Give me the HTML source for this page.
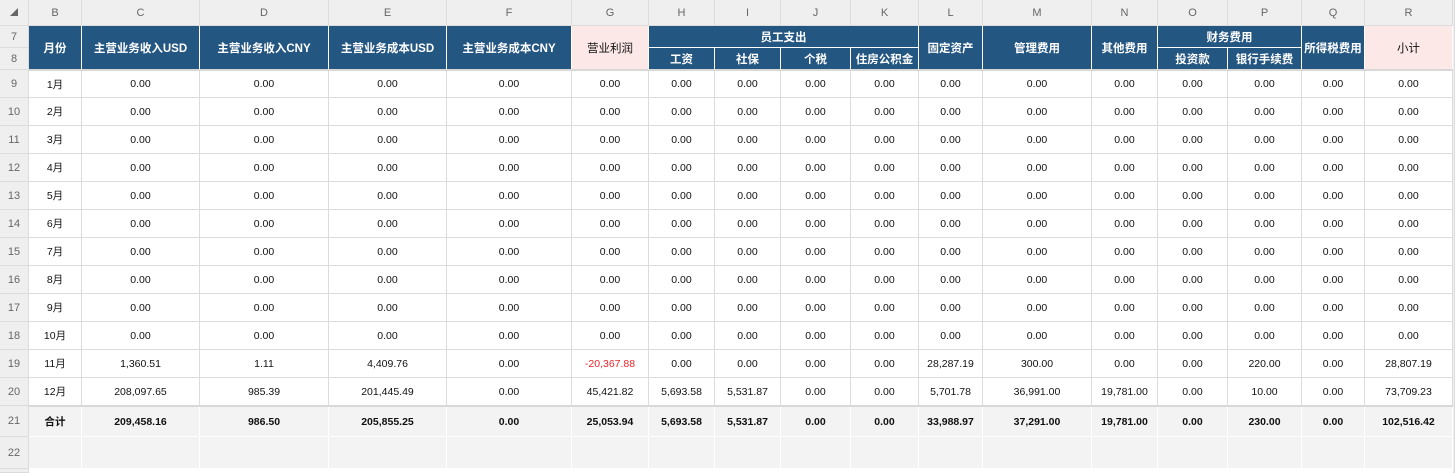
<!DOCTYPE html>
<html><head><meta charset="utf-8"><style>
body{margin:0;width:1455px;height:473px;overflow:hidden;background:#fff;font-family:"Liberation Sans","Noto Sans CJK SC",sans-serif;position:relative}
.c{position:absolute;box-sizing:border-box;display:flex;align-items:center;justify-content:center;font-size:10.5px;color:#111;white-space:nowrap}
.h{background:#245682;color:#fff;font-weight:bold;font-size:11.5px;border-right:1px solid #fff;border-bottom:1px solid #fff}
.p{background:#fde8e8;color:#111;font-weight:normal}
.g{border-right:1px solid #dcdcdc;border-bottom:1px solid #dcdcdc}
.hd{background:#efefef;color:#666;font-size:11px;border-right:1px solid #dcdcdc;border-bottom:1px solid #dcdcdc}
.t{background:#f3f3f3;font-weight:bold;border-right:1px solid #fff;border-bottom:1px solid #fff}
</style></head><body>
<script>
const xs=[29,82,200,329,447,572,649,715,781,851,919,983,1092,1158,1228,1302,1365,1453];
const letters=['B','C','D','E','F','G','H','I','J','K','L','M','N','O','P','Q','R'];
const months=['1月','2月','3月','4月','5月','6月','7月','8月','9月','10月','11月','12月'];
const row11=['1,360.51','1.11','4,409.76','0.00','-20,367.88','0.00','0.00','0.00','0.00','28,287.19','300.00','0.00','0.00','220.00','0.00','28,807.19'];
const row12=['208,097.65','985.39','201,445.49','0.00','45,421.82','5,693.58','5,531.87','0.00','0.00','5,701.78','36,991.00','19,781.00','0.00','10.00','0.00','73,709.23'];
const totals=['209,458.16','986.50','205,855.25','0.00','25,053.94','5,693.58','5,531.87','0.00','0.00','33,988.97','37,291.00','19,781.00','0.00','230.00','0.00','102,516.42'];
function cell(x,y,w,h,cls,txt,name,inter){
  const d=document.createElement('div');
  d.className='c '+cls;
  d.style.left=x+'px';d.style.top=y+'px';d.style.width=w+'px';d.style.height=h+'px';
  d.textContent=txt;
  
  
  document.body.appendChild(d);return d;
}
cell(0,0,29,26,'hd','◢','select-all-corner',true).style.fontSize='8px';
letters.forEach((l,i)=>cell(xs[i],0,xs[i+1]-xs[i],26,'hd',l,'column-header-'+l.toLowerCase(),true));
cell(1453,0,2,473,'hd','','scroll-edge',false);
const rowYs=[[7,26,22],[8,48,22]];
for(let r=9;r<=20;r++)rowYs.push([r,70+(r-9)*28,28]);
rowYs.push([21,406,31]);rowYs.push([22,437,32]);
rowYs.forEach(([n,y,h])=>cell(0,y,29,h,'hd',n,'row-header-'+n,true));
cell(0,469,29,4,'hd','','row-header-end',false);
// headers
const single={0:'月份',1:'主营业务收入USD',2:'主营业务收入CNY',3:'主营业务成本USD',4:'主营业务成本CNY',5:'营业利润',10:'固定资产',11:'管理费用',12:'其他费用',15:'所得税费用',16:'小计'};
for(const k in single){const i=+k;cell(xs[i],26,xs[i+1]-xs[i],44,'h'+((i==5||i==16)?' p':''),single[k],'header-'+letters[i].toLowerCase(),false);}
cell(xs[6],26,xs[10]-xs[6],22,'h','员工支出','header-staff-expense-group',false);
['工资','社保','个税','住房公积金'].forEach((t,j)=>cell(xs[6+j],48,xs[7+j]-xs[6+j],22,'h',t,'header-'+letters[6+j].toLowerCase(),false));
cell(xs[13],26,xs[15]-xs[13],22,'h','财务费用','header-finance-expense-group',false);
['投资款','银行手续费'].forEach((t,j)=>cell(xs[13+j],48,xs[14+j]-xs[13+j],22,'h',t,'header-'+letters[13+j].toLowerCase(),false));
const sep=cell(29,69,1424,2,'','','header-separator',false);sep.style.background='#d8d8d8';
// data
months.forEach((m,r)=>{
  const y=71+r*28-(r==0?0:1)+ (r==0?0:1);
  const top=70+r*28+(r==0?1:0);
  const h=28-(r==0?1:0);
  cell(xs[0],top,xs[1]-xs[0],h,'g',m,'month-'+(r+1),true);
  for(let i=1;i<17;i++){
    let v='0.00';
    if(r==10)v=row11[i-1];
    if(r==11)v=row12[i-1];
    const d=cell(xs[i],top,xs[i+1]-xs[i],h,'g',v,'cell-'+letters[i].toLowerCase()+(r+9),true);
    if(v.startsWith('-'))d.style.color='#e8262a';
  }
});
const sep2=cell(29,405,1424,2,'','','total-separator',false);sep2.style.background='#d8d8d8';
cell(xs[0],407,xs[1]-xs[0],30,'t','合计','total-label',true);
totals.forEach((v,i)=>cell(xs[i+1],407,xs[i+2]-xs[i+1],30,'t',v,'total-'+letters[i+1].toLowerCase(),true));
for(let i=0;i<17;i++)cell(xs[i],437,xs[i+1]-xs[i],32,'t','','cell-'+letters[i].toLowerCase()+'22',true);
</script>
</body></html>
